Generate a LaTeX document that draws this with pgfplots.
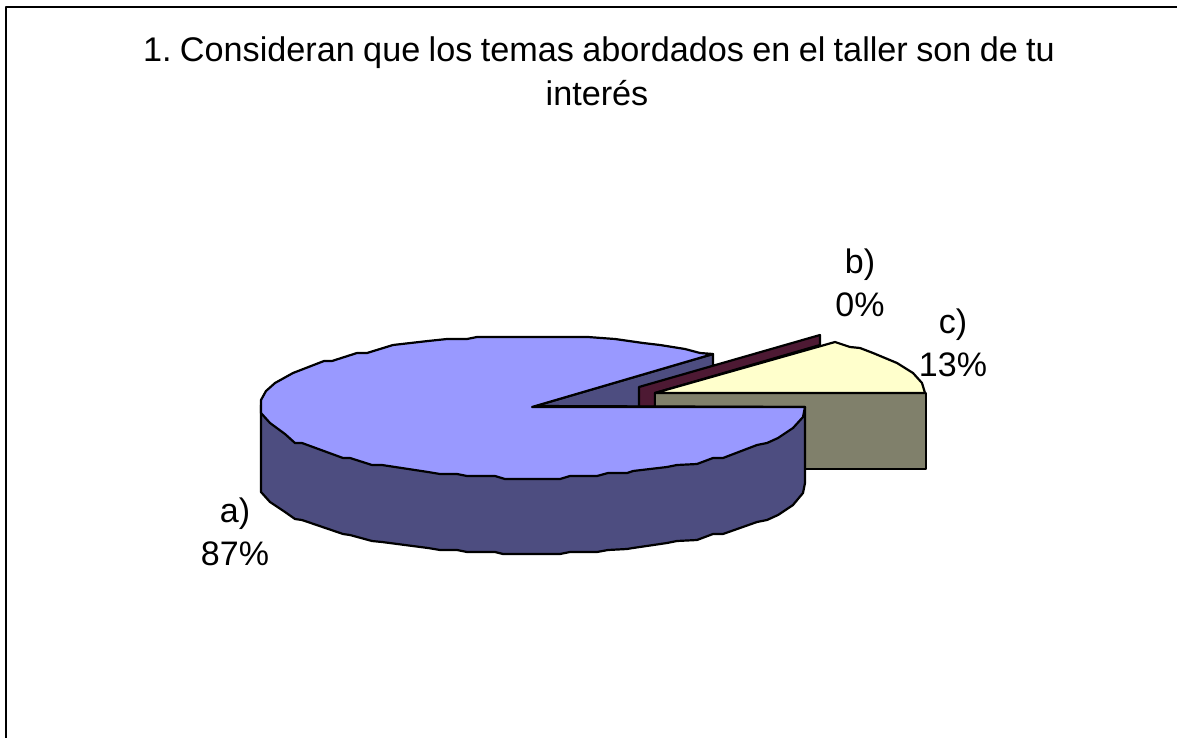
\documentclass[border=0pt]{standalone}
\usepackage{pgfplots}
\pgfplotsset{compat=1.18}
\usepackage{fontspec}
\setmainfont{Liberation Sans}
\definecolor{topblue}{HTML}{9999FF}
\definecolor{sideblue}{HTML}{4D4D80}
\definecolor{maroon}{HTML}{4D1933}
\definecolor{cream}{HTML}{FFFFCC}
\definecolor{olive}{HTML}{80806B}
\tikzset{lab/.style={font=\fontsize{17.1}{19.5}\selectfont, inner sep=0pt},
 dlab/.style={font=\fontsize{17}{21.5}\selectfont, align=center, inner sep=0pt}}
\begin{document}
\begin{tikzpicture}
\begin{axis}[
  scale only axis, width=588.5pt, height=369pt,
  xmin=0, xmax=1177, ymin=0, ymax=738, y dir=reverse,
  hide axis, clip=true,
  every axis plot/.append style={draw=black, line width=1.1pt, line join=round},
]
% page extent
\addplot[draw=none, fill=none, line width=0pt] coordinates {(0,0) (1177,738)};
% frame
\addplot[fill=none, line width=1.3pt] coordinates {(6,738) (6,7) (1177,7)};
% back wall of slice a
\addplot[fill=sideblue] coordinates {(532,407) (713,354) (713,407)} --cycle;
% slice b
\addplot[fill=maroon] coordinates {(639,407) (639,387) (820,335) (820,345) (655,393) (655,407)} --cycle;
% slice c
\addplot[fill=olive] coordinates {(655,393) (926,393) (926,469) (655,469)} --cycle;
\addplot[fill=cream] coordinates {(655,393) (835,342) (850,347) (860,348) (873,353) (897,363) (913,373) (922,383) (925,393)} --cycle;
% slice a side
\addplot[fill=sideblue] coordinates {(261,405) (261,492) (270,502) (285,512) (295,519) (302,520) (343,534) (350,535) (372,541) (382,542) (428,548) (440,550) (457,550) (467,552) (495,552) (503,554) (560,554) (570,552) (597,552) (608,550) (627,549) (633,548) (667,543) (677,541) (697,540) (713,534) (723,534) (757,522) (767,520) (778,515) (793,505) (803,493) (805,483) (805,407)} --cycle;
% slice a top
\addplot[fill=topblue] coordinates {(532,407) (713,354) (700,353) (685,349) (660,345) (643,343) (615,339) (588,337) (477,337) (467,339) (447,339) (428,341) (393,345) (367,353) (357,353) (332,361) (324,361) (293,373) (275,383) (266,391) (261,400) (261,413) (270,423) (285,434) (295,443) (302,443) (343,458) (350,458) (372,465) (382,465) (428,472) (440,474) (457,474) (467,476) (495,476) (505,479) (560,479) (570,476) (597,476) (608,473) (627,473) (633,471) (667,467) (677,465) (697,464) (713,458) (723,458) (757,445) (767,443) (778,438) (793,428) (803,417) (805,407)} --cycle;
\node[lab] at (axis cs:599,53) {\frenchspacing\spaceskip=4.2pt\relax 1. Consideran que los temas abordados en el taller son de tu};
\node[lab] at (axis cs:597,93) {interés};
\node[dlab] at (axis cs:235,532) {a)\\87\%};
\node[dlab] at (axis cs:860,282.5) {b)\\0\%};
\node[dlab] at (axis cs:953,342.5) {c)\\13\%};
\end{axis}
\end{tikzpicture}
\end{document}
